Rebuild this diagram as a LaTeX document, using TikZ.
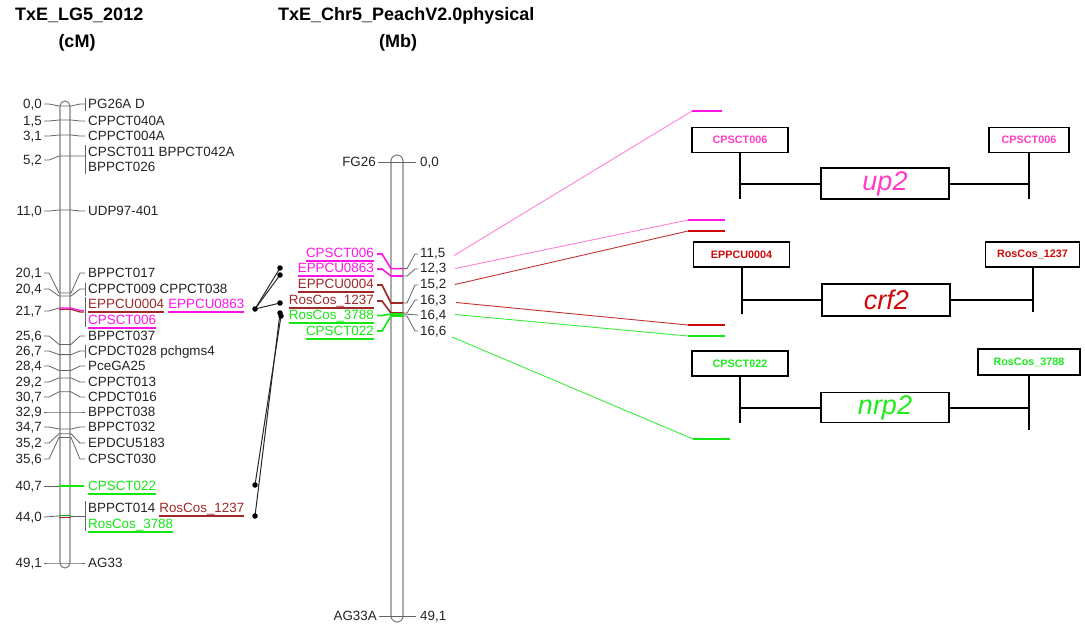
\documentclass[tikz,border=0pt]{standalone}
\usepackage{fontspec}
\setmainfont{Liberation Sans}
\definecolor{magL}{RGB}{255,20,230}
\definecolor{brownL}{RGB}{160,40,40}
\definecolor{greenL}{RGB}{20,230,20}
\definecolor{pinkR}{RGB}{255,60,200}
\definecolor{redR}{RGB}{204,10,10}
\definecolor{greenR}{RGB}{30,235,30}
\definecolor{pinkT}{RGB}{255,130,215}
\definecolor{redT}{RGB}{195,50,50}
\definecolor{greenT}{RGB}{60,235,60}
\definecolor{tickc}{RGB}{100,100,100}
\definecolor{txtc}{RGB}{35,35,35}
\newcommand\ulx[2]{\draw[#2, line width=1.1pt] ([yshift=-3.2pt]#1.base west) -- ([yshift=-3.2pt]#1.base east);}
\newcommand\lm[5]{%
  \node[le] (ln#1) at (42,#3) {#2};
  \node[lw] (ll#1) at (88,#3) {#5};
  \draw[tick] (44,#3) -- (49,#3) -- (59,#4) -- (71,#4) -- (80,#3) -- (85,#3);}
\newcommand\lmb[5]{\lm{#1}{#2}{#3}{#4}{#5}\draw[tick] (85,#3-6.5) -- (85,#3+6.5);}
\begin{document}
\begin{tikzpicture}[x=1pt,y=-1pt,
  lbl/.style={font=\fontsize{13.4}{16}\selectfont, text=txtc, inner sep=0pt},
  lw/.style={lbl, anchor=base west, yshift=-4.8pt},
  le/.style={lbl, anchor=base east, yshift=-4.8pt},
  ttl/.style={font=\fontsize{18}{22}\selectfont\bfseries, text=black, inner sep=0pt},
  tick/.style={draw=tickc, line width=0.8pt},
  chrom/.style={draw=gray, line width=1.1pt},
  ctick/.style={line width=1.6pt},
  thin/.style={line width=0.9pt},
  stub/.style={line width=2.2pt},
  conn/.style={draw=black!85, line width=1pt},
  dot/.style={fill=black, draw=none, circle, inner sep=0pt, minimum size=5.5pt},
  mbox/.style={draw=black, line width=1.4pt, inner sep=0pt, minimum height=25pt,
     font=\fontsize{10.8}{12}\selectfont\bfseries},
  gbox/.style={draw=black, line width=1.8pt, inner sep=0pt, minimum width=128pt, minimum height=31pt,
     font=\fontsize{27}{30}\selectfont\itshape},
  gl/.style={draw=black, line width=2pt}
]
\useasboundingbox (0,0) rectangle (1085,627);
% titles
\node[ttl, anchor=west] (t1) at (15,15.5) {TxE\_LG5\_2012};
\node[ttl] (t1u) at (77,43) {(cM)};
\node[ttl, anchor=west] (t2) at (278,15.5) {TxE\_Chr5\_PeachV2.0physical};
\node[ttl] (t2u) at (398,43) {(Mb)};

% ---------- left map ----------
\draw[chrom, rounded corners=5pt] (60,101) rectangle (70,568);
\lmb{a}{0,0}{104}{106}{PG26A D}
\lm{b}{1,5}{121}{120}{CPPCT040A}
\lm{c}{3,1}{136}{135}{CPPCT004A}
\node[le] (lnd) at (42,160) {5,2};
\node[lw] (llda) at (88,152) {CPSCT011 BPPCT042A};
\node[lw] (lldb) at (88,167) {BPPCT026};
\draw[tick] (44,160) -- (49,160) -- (59,156) -- (85,156);
\draw[tick] (85,145) -- (85,174);
\lm{e}{11,0}{211}{210}{UDP97-401}
\lm{f}{20,1}{273}{293}{BPPCT017}
\lmb{g}{20,4}{289}{296}{CPPCT009 CPPCT038}
% 21,7 group
\node[le] (lnh) at (42,311) {21,7};
\node[lw, text=brownL] (llha) at (88,304) {EPPCU0004};
\node[lbl, anchor=base west, text=magL] (llhb) at ([xshift=3.73pt]llha.base east) {EPPCU0863};
\node[lw, text=magL] (llhc) at (88,320) {CPSCT006};
\ulx{llha}{brownL}\ulx{llhb}{magL}\ulx{llhc}{magL}
\draw[tick] (44,311) -- (49,311) -- (59,308);
\draw[tick] (85,297) -- (85,327);
\draw[ctick, brownL, line width=1.2pt] (59,309.3) -- (71,309.3) -- (80,312) -- (84,312);
\draw[ctick, magL, line width=1.2pt] (59,308) -- (71,308) -- (80,310.5) -- (84,310.5);
\lm{i}{25,6}{336}{344.4}{BPPCT037}
\lmb{j}{26,7}{351}{354.6}{CPDCT028 pchgms4}
\lm{k}{28,4}{366}{370.4}{PceGA25}
\lm{l}{29,2}{382}{377.9}{CPPCT013}
\lm{m}{30,7}{397}{391.8}{CPDCT016}
\lm{n}{32,9}{412}{412}{BPPCT038}
\lm{o}{34,7}{427}{429}{BPPCT032}
\lm{p}{35,2}{443}{433.7}{EPDCU5183}
\lm{q}{35,6}{459}{437.4}{CPSCT030}
% 40,7
\node[le] (lnr) at (42,486) {40,7};
\node[lw, text=greenL] (llr) at (88,486) {CPSCT022};
\ulx{llr}{greenL}
\draw[tick] (44,486) -- (59,486);
\draw[greenL, line width=1.3pt] (59,486) -- (84,486);
% 44,0 group
\node[le] (lns) at (42,517) {44,0};
\node[lw] (llsa) at (88,508) {BPPCT014};
\node[lbl, anchor=base west, text=brownL] (llsb) at ([xshift=3.73pt]llsa.base east) {RosCos\_1237};
\node[lw, text=greenL] (llsc) at (88,524) {RosCos\_3788};
\ulx{llsb}{brownL}\ulx{llsc}{greenL}
\draw[tick] (44,517) -- (59,516);
\draw[tick] (71,516) -- (85,516);
\draw[tick] (85,501) -- (85,531);
\draw[brownL, line width=1pt] (59,517.2) -- (71,517.2);
\draw[greenL!75!black, line width=1.1pt] (59,515.8) -- (71,515.8);
\lm{t}{49,1}{563}{563}{AG33}

% ---------- connectors between maps ----------
\coordinate (d1) at (255,309);
\coordinate (d2) at (280,268);
\coordinate (d3) at (280,275);
\coordinate (d4) at (280,303);
\coordinate (d5) at (280,313);
\coordinate (d6) at (281,316);
\coordinate (d7) at (255,485);
\coordinate (d8) at (255,516);
\draw[conn] (d1) -- (d2);
\draw[conn] (d1) -- (d3);
\draw[conn] (d1) -- (d4);
\draw[conn] (d7) -- (d6);
\draw[conn] (d8) -- (d5);
\foreach \d in {d1,d2,d3,d4,d5,d6,d7,d8} \node[dot] at (\d) {};

% ---------- middle map ----------
\draw[chrom, rounded corners=6pt] (391,155) rectangle (403,622);
\node[le] (fg) at (376,162) {FG26};
\node[lw] (fgn) at (420,162) {0,0};
\draw[tick] (378,162) -- (416,162);
\node[le] (ag) at (377,616) {AG33A};
\node[lw] (agn) at (420,616) {49,1};
\draw[tick] (379,616) -- (416,616);

\node[le, text=magL] (m1) at (374,253) {CPSCT006};
\node[le, text=magL] (m2) at (374,268) {EPPCU0863};
\node[le, text=brownL] (m3) at (374,284) {EPPCU0004};
\node[le, text=brownL] (m4) at (374,300) {RosCos\_1237};
\node[le, text=greenL] (m5) at (374,315) {RosCos\_3788};
\node[le, text=greenL] (m6) at (374,331) {CPSCT022};
\ulx{m1}{magL}\ulx{m2}{magL}\ulx{m3}{brownL}\ulx{m4}{brownL}\ulx{m5}{greenL}\ulx{m6}{greenL}

\node[lw] (n1) at (420,253) {11,5};
\node[lw] (n2) at (420,268) {12,3};
\node[lw] (n3) at (420,284) {15,2};
\node[lw] (n4) at (420,300) {16,3};
\node[lw] (n5) at (420,315) {16,4};
\node[lw] (n6) at (420,331) {16,6};
\draw[tick] (403,268.6) -- (407,268.6) -- (415,254) -- (418,254);
\draw[tick] (403,276) -- (407,276) -- (415,269) -- (418,269);
\draw[tick] (403,303) -- (407,303) -- (415,285) -- (418,285);
\draw[tick] (403,313) -- (407,313) -- (415,300) -- (418,300);
\draw[tick] (403,314) -- (418,315);
\draw[tick] (403,316) -- (407,316) -- (415,331) -- (418,331);

\draw[ctick, magL] (377,254) -- (382,254) -- (391,268.6) -- (403,268.6);
\draw[ctick, magL] (377,269) -- (382,269) -- (391,276) -- (403,276);
\draw[ctick, brownL] (377,285) -- (382,285) -- (391,303) -- (403,303);
\draw[ctick, brownL] (377,301) -- (382,301) -- (391,313) -- (403,313);
\draw[ctick, greenL] (377,315.5) -- (382,315.5) -- (391,314) -- (403,314);
\draw[ctick, greenL] (377,331) -- (382,331) -- (391,316) -- (403,316);

% ---------- long lines to the right ----------
\coordinate (r1s) at (454,255.5); \coordinate (r1e) at (692,111);
\coordinate (r2s) at (455,268.5); \coordinate (r2e) at (688,220);
\coordinate (r3s) at (455,284.5); \coordinate (r3e) at (688,231);
\coordinate (r4s) at (456,302.5); \coordinate (r4e) at (688,325);
\coordinate (r5s) at (455,314.5); \coordinate (r5e) at (688,336);
\coordinate (r6s) at (452,337); \coordinate (r6e) at (693,439);
\draw[thin, pinkT] (r1s) -- (r1e);
\draw[thin, pinkT] (r2s) -- (r2e);
\draw[thin, redT] (r3s) -- (r3e);
\draw[thin, redT] (r4s) -- (r4e);
\draw[thin, greenT] (r5s) -- (r5e);
\draw[thin, greenT] (r6s) -- (r6e);
\draw[stub, magL] (r1e) -- ++(30,0);
\draw[stub, magL] (r2e) -- ++(37,0);
\draw[stub, redR] (r3e) -- ++(37,0);
\draw[stub, redR] (r4e) -- ++(37,0);
\draw[stub, greenL] (r5e) -- ++(37,0);
\draw[stub, greenL] (r6e) -- ++(37,0);

% ---------- right gene boxes ----------
\node[mbox, minimum width=96pt, text=pinkR] (b1) at (740,140) {CPSCT006};
\node[mbox, minimum width=80pt, text=pinkR] (b2) at (1029,140) {CPSCT006};
\node[gbox, text=pinkR] (g1) at (885,183.5) {up2};
\draw[gl] (b1.south) -- ++(0,46);
\draw[gl] (b2.south) -- ++(0,45.5);
\draw[gl] (b1.south |- g1.west) -- (g1.west);
\draw[gl] (g1.east) -- (b2.south |- g1.east);

\node[mbox, minimum width=96pt, text=redR] (b3) at (741.5,254.5) {EPPCU0004};
\node[mbox, minimum width=94pt, text=redR] (b4) at (1032.5,254.3) {RosCos\_1237};
\node[gbox, minimum height=32pt, text=redR] (g2) at (886.3,300) {crf2};
\draw[gl] (b3.south) -- ++(0,46);
\draw[gl] (b4.south) -- ++(0,44);
\draw[gl] (b3.south |- g2.west) -- (g2.west);
\draw[gl] (g2.east) -- (b4.south |- g2.east);

\node[mbox, minimum width=96pt, text=greenR] (b5) at (740,363.3) {CPSCT022};
\node[mbox, minimum width=102pt, minimum height=26pt, text=greenR] (b6) at (1029,362) {RosCos\_3788};
\node[gbox, minimum height=30pt, text=greenR] (g3) at (885,407.5) {nrp2};
\draw[gl] (b5.south) -- ++(0,46.6);
\draw[gl] (b6.south) -- ++(0,54);
\draw[gl] (b5.south |- g3.west) -- (g3.west);
\draw[gl] (g3.east) -- (b6.south |- g3.east);
\end{tikzpicture}
\end{document}
